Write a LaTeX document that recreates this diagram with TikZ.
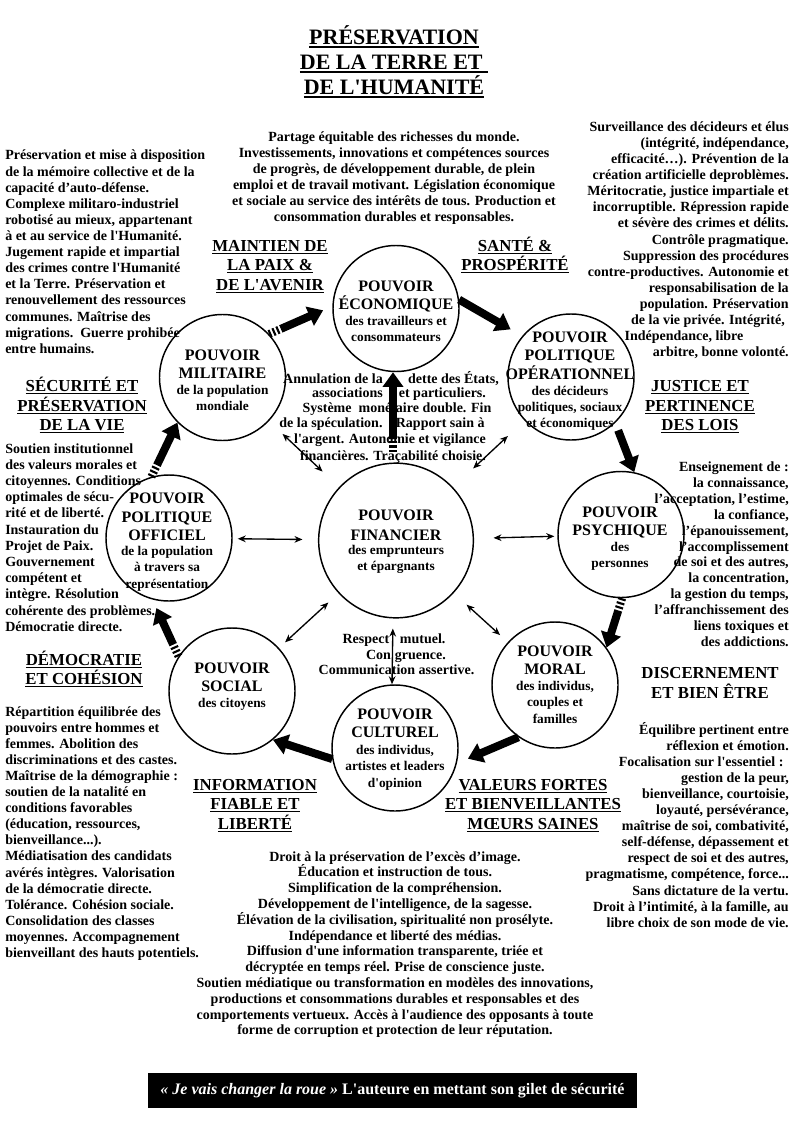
\documentclass[tikz,border=0pt]{standalone}
\usepackage{fontspec}
\setmainfont{Liberation Serif}[Ligatures=TeXOff]
\usetikzlibrary{arrows.meta,calc}
\newcommand\myul[2][0.75pt]{\setbox0\hbox{#2}\rlap{\rule[-2.2pt]{\wd0}{#1}}\box0}
\newcommand\mylines[6]{\foreach \myl [count=\myi from 0] in {#6}{\node[#2] (#1\myi) at (#3,{#4+\myi*#5}) {\myl};}}
% striped-tail thick arrow: #1 tail, #2 head, #3 extra options
\newcommand\sarrow[3]{\draw[bigdash] (#1) -- ($(#1)!9.6pt!(#2)$); \draw[big,#3] ($(#1)!9.6pt!(#2)$) -- (#2);}
\begin{document}
\begin{tikzpicture}[x=0.75pt,y=-0.75pt,
  body/.style={font=\fontsize{10.5}{12}\selectfont\bfseries, inner sep=0pt},
  hd/.style={font=\fontsize{12.6}{15}\selectfont\bfseries, inner sep=0pt, anchor=base},
  ttl/.style={font=\fontsize{16.5}{19}\selectfont\bfseries, inner sep=0pt, anchor=base},
  pcap/.style={font=\fontsize{12}{14}\selectfont\bfseries, inner sep=0pt, anchor=base},
  psub/.style={font=\fontsize{10}{12}\selectfont\bfseries, inner sep=0pt, anchor=base},
  pw/.style={circle, draw, line width=1.1pt, minimum size=94.5pt, inner sep=0pt},
  big/.style={line width=6pt, -{Triangle[length=11pt,width=15pt]}},
  bigdash/.style={line width=6pt, dash pattern=on 1.6pt off 1.6pt},
  dbl/.style={line width=1pt, {Stealth[length=6pt,width=5pt]}-{Stealth[length=6pt,width=5pt]}}]
\useasboundingbox (0,0) rectangle (794,1123);
\fill[white] (0,0) rectangle (794,1123);

% title
\mylines{ti}{ttl}{394}{45}{25}{{\myul[1.1pt]{PRÉSERVATION}},{\myul[1.1pt]{DE LA TERRE ET\ }},{\myul[1.1pt]{DE L'HUMANITÉ}}}

% circles
\node[pw] (eco) at (396,308.5) {};
\node[pw] (ope) at (571,377) {};
\node[pw] (psy) at (621,534.5) {};
\node[pw] (mor) at (555,685) {};
\node[pw] (cul) at (395,748) {};
\node[pw] (soc) at (232,691) {};
\node[pw] (off) at (169,538) {};
\node[pw] (mil) at (222.5,377.5) {};
\node[pw, minimum size=116pt] (fin) at (396,540.5) {};

% circle texts
\mylines{ecoA}{pcap}{396}{291}{18}{{POUVOIR},{ÉCONOMIQUE}}
\mylines{ecoB}{psub}{396}{325}{16}{{des travailleurs et},{consommateurs}}
\mylines{opeA}{pcap}{570}{342}{18.5}{{POUVOIR},{POLITIQUE},{OPÉRATIONNEL}}
\mylines{opeB}{psub}{570}{395}{16}{{des décideurs},{politiques, sociaux},{et économiques}}
\mylines{psyA}{pcap}{620}{517}{18}{{POUVOIR},{PSYCHIQUE}}
\mylines{psyB}{psub}{620}{551}{16}{{des},{personnes}}
\mylines{morA}{pcap}{555}{656}{18}{{POUVOIR},{MORAL}}
\mylines{morB}{psub}{555}{690}{16.5}{{des individus,},{couples et},{familles}}
\mylines{culA}{pcap}{395}{719}{18.5}{{POUVOIR},{CULTUREL}}
\mylines{culB}{psub}{395}{754}{16.5}{{des individus,},{artistes et leaders},{d'opinion}}
\mylines{socA}{pcap}{232}{673.5}{18}{{POUVOIR},{SOCIAL}}
\mylines{socB}{psub}{232}{707.5}{16}{{des citoyens}}
\mylines{offA}{pcap}{167}{503.5}{18.5}{{POUVOIR},{POLITIQUE},{OFFICIEL}}
\mylines{offB}{psub}{167}{555.5}{16.3}{{de la population},{à travers sa},{représentation}}
\mylines{milA}{pcap}{222.5}{360}{18}{{POUVOIR},{MILITAIRE}}
\mylines{milB}{psub}{222.5}{394}{16}{{de la population},{mondiale}}
\mylines{finA}{pcap}{396}{520.5}{19.5}{{POUVOIR},{FINANCIER}}
\mylines{finB}{psub}{396}{554.5}{16}{{des emprunteurs},{et épargnants}}

% headings
\mylines{h1}{hd}{270}{251}{19.5}{{\myul{MAINTIEN DE}},{\myul{LA PAIX \&}},{\myul{DE L'AVENIR}}}
\mylines{h2}{hd}{515}{251}{19.5}{{\myul{SANTÉ \&}},{\myul{PROSPÉRITÉ}}}
\mylines{h3}{hd}{82}{391.5}{19.5}{{\myul{SÉCURITÉ ET}},{\myul{PRÉSERVATION}},{\myul{DE LA VIE}}}
\mylines{h4}{hd}{700}{391.5}{19.5}{{\myul{JUSTICE ET}},{\myul{PERTINENCE}},{\myul{DES LOIS}}}
\mylines{h5}{hd}{84}{665}{19.5}{{\myul{DÉMOCRATIE}},{\myul{ET COHÉSION}}}
\mylines{h6}{hd}{710}{678.5}{19.5}{{DISCERNEMENT},{ET BIEN ÊTRE}}
\mylines{h7}{hd}{255}{790}{19.5}{{\myul{INFORMATION}},{\myul{FIABLE ET}},{\myul{LIBERTÉ}}}
\mylines{h8}{hd}{533}{790}{19.5}{{\myul{VALEURS FORTES}},{\myul{ET BIENVEILLANTES}},{\myul{MŒURS SAINES}}}

% text blocks
\mylines{tl}{body,anchor=base west}{5}{160}{16.1}{{Préservation et mise à disposition},{de la mémoire collective et de la},{capacité d’auto-défense.},{Complexe militaro-industriel},{robotisé au mieux, appartenant},{à et au service de l'Humanité.},{Jugement rapide et impartial},{des crimes contre l'Humanité},{et la Terre. Préservation et},{renouvellement des ressources},{communes. Maîtrise des},{migrations.\ \ Guerre prohibée},{entre humains.}}

\mylines{tc}{body,anchor=base}{394}{142}{15.9}{{Partage équitable des richesses du monde.},{Investissements, innovations et compétences sources},{de progrès, de développement durable, de plein},{emploi et de travail motivant. Législation économique},{et sociale au service des intérêts de tous. Production et},{consommation durables et responsables.}}

\mylines{tr}{body,anchor=base east}{789}{132}{16}{{Surveillance des décideurs et élus},{(intégrité, indépendance,},{efficacité…). Prévention de la},{création artificielle deproblèmes.},{Méritocratie, justice impartiale et},{incorruptible. Répression rapide},{et sévère des crimes et délits.},{Contrôle pragmatique.},{Suppression des procédures},{contre-productives. Autonomie et},{responsabilisation de la},{population. Préservation},{de la vie privée. Intégrité,\rule{3pt}{0pt}},{Indépendance, libre\rule{34pt}{0pt}},{arbitre, bonne volonté.}}

\mylines{lm}{body,anchor=base west}{5}{453}{16.2}{{Soutien institutionnel},{des valeurs morales et},{citoyennes. Conditions},{optimales de sécu-},{rité et de liberté.},{Instauration du},{Projet de Paix.},{Gouvernement},{compétent et},{intègre. Résolution},{cohérente des problèmes.},{Démocratie directe.}}

\mylines{rm}{body,anchor=base east}{789}{471.5}{15.9}{{Enseignement de :},{la connaissance,},{l’acceptation, l’estime,},{la confiance,},{l’épanouissement,},{l’accomplissement},{de soi et des autres,},{la concentration,},{la gestion du temps,},{l’affranchissement des},{liens toxiques et},{des addictions.}}

\mylines{bl}{body,anchor=base west}{5}{716}{16.1}{{Répartition équilibrée des},{pouvoirs entre hommes et},{femmes. Abolition des},{discriminations et des castes.},{Maîtrise de la démographie :},{soutien de la natalité en},{conditions favorables},{(éducation, ressources,},{bienveillance.{}.{}.).},{Médiatisation des candidats},{avérés intègres. Valorisation},{de la démocratie directe.},{Tolérance. Cohésion sociale.},{Consolidation des classes},{moyennes. Accompagnement},{bienveillant des hauts potentiels.}}

\mylines{bc}{body,anchor=base}{395}{861}{15.8}{{Droit à la préservation de l’excès d’image.},{Éducation et instruction de tous.},{Simplification de la compréhension.},{Développement de l'intelligence, de la sagesse.},{Élévation de la civilisation, spiritualité non prosélyte.},{Indépendance et liberté des médias.},{Diffusion d'une information transparente, triée et},{décryptée en temps réel. Prise de conscience juste.},{Soutien médiatique ou transformation en modèles des innovations,},{productions et consommations durables et responsables et des},{comportements vertueux. Accès à l'audience des opposants à toute},{forme de corruption et protection de leur réputation.}}

\mylines{br}{body,anchor=base east}{789}{734}{16.1}{{Équilibre pertinent entre},{réflexion et émotion.},{Focalisation sur l'essentiel :\rule{4pt}{0pt}},{gestion de la peur,},{bienveillance, courtoisie,},{loyauté, persévérance,},{maîtrise de soi, combativité,},{self-défense, dépassement et},{respect de soi et des autres,},{pragmatisme, compétence, force.{}.{}.},{Sans dictature de la vertu.},{Droit à l’intimité, à la famille, au},{libre choix de son mode de vie.}}

% centre texts
\node[body,anchor=base] (c1) at (391,383) {Annulation de la\hspace{19pt}dette des États,};
\node[body,anchor=base] (c2) at (399,397.5) {associations\hspace{12pt}et particuliers.};
\node[body,anchor=base] (c3) at (397,412) {Système\ \ monétaire double. Fin};
\node[body,anchor=base] (c4) at (382,427) {de la spéculation.\hspace{10pt}Rapport sain à};
\node[body,anchor=base] (c5) at (390,443.5) {l'argent. Autonomie et vigilance};
\node[body,anchor=base] (c6) at (393,460) {financières. Traçabilité choisie.};
\node[body,anchor=base] (r1) at (394,643) {Respect\hspace{8pt}mutuel.};
\node[body,anchor=base] (r2) at (406,659) {Con\hspace{3pt}gruence.};
\node[body,anchor=base] (r3) at (396.5,674) {Communication assertive.};

% thick ring arrows
\sarrow{mil.43}{eco.178}{shorten >=7.5pt}
\draw[big, shorten >=10pt] (eco.8) -- (ope.140);
\draw[big, shorten <=6pt] (ope.-46) -- (psy.78);
\sarrow{psy.-89}{mor.36}{}
\draw[big, shorten >=9pt] (mor.235) -- (cul.-14);
\draw[big] (cul.190) -- (soc.-50);
\sarrow{soc.147}{off.255}{shorten >=7pt}
\sarrow{off.106}{mil.225}{}
\coordinate (vt) at ($([xshift=-2.25pt]fin.north)!8pt!([xshift=-2.25pt]eco.south)$);
\coordinate (vh) at ([xshift=-2.25pt]eco.south);
\sarrow{vt}{vh}{}

% thin double arrows
\draw[dbl, shorten <=17pt, shorten >=14pt] (fin) -- (mil);
\draw[dbl, shorten <=20.6pt, shorten >=17pt] (fin) -- (ope);
\draw[dbl, shorten <=11.6pt, shorten >=3.75pt] (fin) -- (off);
\draw[dbl, shorten <=14.6pt, shorten >=2.25pt] (fin) -- (psy);
\draw[dbl, shorten <=10.3pt, shorten >=6.2pt] (fin) -- (soc);
\draw[dbl, shorten <=13pt, shorten >=7.9pt] (fin) -- (mor);
\draw[dbl, shorten <=7.5pt] ([xshift=-2.25pt]fin.south) -- ([xshift=-2.25pt]cul.north);

% banner
\node[fill=black, text=white, minimum width=366.75pt, minimum height=26.25pt, inner sep=0pt, font=\fontsize{12}{14}\selectfont\bfseries] (ban) at (392.5,1090.5) {\textit{« Je vais changer la roue »} L'auteure en mettant son gilet de sécurité};
\end{tikzpicture}
\end{document}
